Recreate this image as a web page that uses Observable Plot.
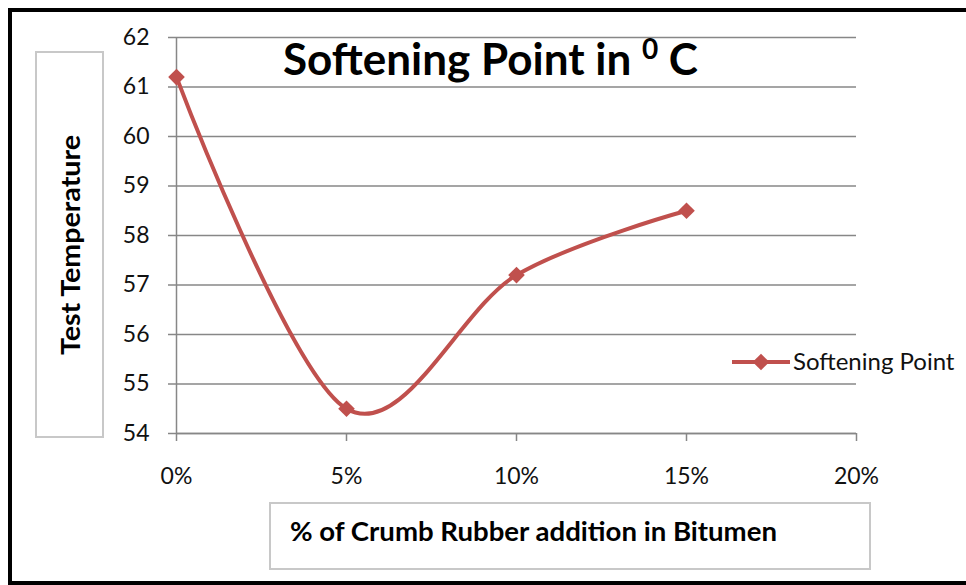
<!DOCTYPE html>
<html><head><meta charset="utf-8">
<script src="https://cdn.jsdelivr.net/npm/d3@7"></script>
<script src="https://cdn.jsdelivr.net/npm/@observablehq/plot@0.6"></script>
<style>
body{margin:0;background:#fff;}
#wrap{position:relative;width:966px;height:585px;overflow:hidden;background:#fff;}
#frame{position:absolute;left:8px;top:8px;width:1000px;height:569px;border:4px solid #000;border-right:none;}
#chart{position:absolute;left:0;top:0;}
#ann{position:absolute;left:0;top:0;}
</style></head>
<body><div id="wrap"><div id="frame"></div><div id="chart"></div><svg id="ann" width="966" height="585"></svg></div>
<script>
// Data
const additions = [0, 5, 10, 15];              // % crumb rubber
const softeningPoint = [61.2, 54.5, 57.2, 58.5]; // °C
const yTicks = [54, 55, 56, 57, 58, 59, 60, 61, 62];
const xTicks = [0, 5, 10, 15, 20];
const titleText = "Softening Point in ";
const titleSup = "0";
const titleEnd = " C";
const yTitle = "Test Temperature";
const xTitle = "% of Crumb Rubber addition in Bitumen";
const seriesName = "Softening Point";

const red = "#C0504D";
const gridColor = "#878787";
const data = additions.map((x, i) => ({x, y: softeningPoint[i]}));

const plot = Plot.plot({
  width: 966, height: 585,
  marginLeft: 176, marginRight: 110, marginTop: 37, marginBottom: 152,
  style: {background: "transparent", fontFamily: "Lato", fontSize: "23px", color: "#111"},
  x: {domain: [0, 20], label: null},
  y: {domain: [54, 62], label: null},
  marks: [
    Plot.gridY(yTicks, {stroke: gridColor, strokeOpacity: 1, strokeWidth: 1.5}),
    Plot.ruleX([0], {stroke: gridColor, strokeWidth: 1.5}),
    Plot.ruleY([54], {stroke: gridColor, strokeWidth: 1.5}),
    Plot.axisY({ticks: yTicks, tickSize: 8, tickPadding: 19, stroke: gridColor, strokeWidth: 1.5, strokeOpacity: 1, fill: "#111", label: null}),
    Plot.axisX({ticks: xTicks, tickSize: 8, tickPadding: 26, tickFormat: d => d + "%", stroke: gridColor, strokeWidth: 1.5, strokeOpacity: 1, fill: "#111", label: null}),
    Plot.line(data, {x: "x", y: "y", curve: "cardinal", stroke: red, strokeWidth: 4}),
    Plot.dot(data, {x: "x", y: "y", symbol: "diamond2", fill: red, stroke: "none", r: 7.5})
  ]
});
document.getElementById("chart").appendChild(plot);

const ann = d3.select("#ann").style("font-family", "Lato");
// Y title box
ann.append("rect").attr("x", 36).attr("y", 52).attr("width", 67).attr("height", 385)
  .attr("fill", "none").attr("stroke", "#c8c8c8").attr("stroke-width", 2);
ann.append("text").attr("transform", "translate(80,245) rotate(-90)")
  .attr("text-anchor", "middle").attr("font-weight", "bold").attr("font-size", 26)
  .attr("textLength", 220).attr("lengthAdjust", "spacingAndGlyphs")
  .attr("fill", "#000").text(yTitle);
// X title box
ann.append("rect").attr("x", 270).attr("y", 503).attr("width", 600).attr("height", 66)
  .attr("fill", "none").attr("stroke", "#c8c8c8").attr("stroke-width", 2);
ann.append("text").attr("x", 290).attr("y", 541)
  .attr("font-weight", "bold").attr("font-size", 26)
  .attr("textLength", 487).attr("lengthAdjust", "spacingAndGlyphs")
  .attr("fill", "#000").text(xTitle);
// Title
const t = ann.append("text").attr("x", 283).attr("y", 75)
  .attr("font-weight", "bold").attr("font-size", 44).attr("fill", "#000");
t.append("tspan").text(titleText);
t.append("tspan").attr("font-size", 28).attr("dy", -16).text(titleSup);
t.append("tspan").attr("dy", 16).text(titleEnd);
// Legend
ann.append("line").attr("x1", 732).attr("x2", 790).attr("y1", 362).attr("y2", 362)
  .attr("stroke", red).attr("stroke-width", 4);
ann.append("path").attr("transform", "translate(761,362)")
  .attr("d", d3.symbol(d3.symbolDiamond2, Math.PI * 7.5 * 7.5)()).attr("fill", red);
ann.append("text").attr("x", 793).attr("y", 370).attr("font-size", 24).attr("fill", "#111").text(seriesName);
</script>
</body></html>
